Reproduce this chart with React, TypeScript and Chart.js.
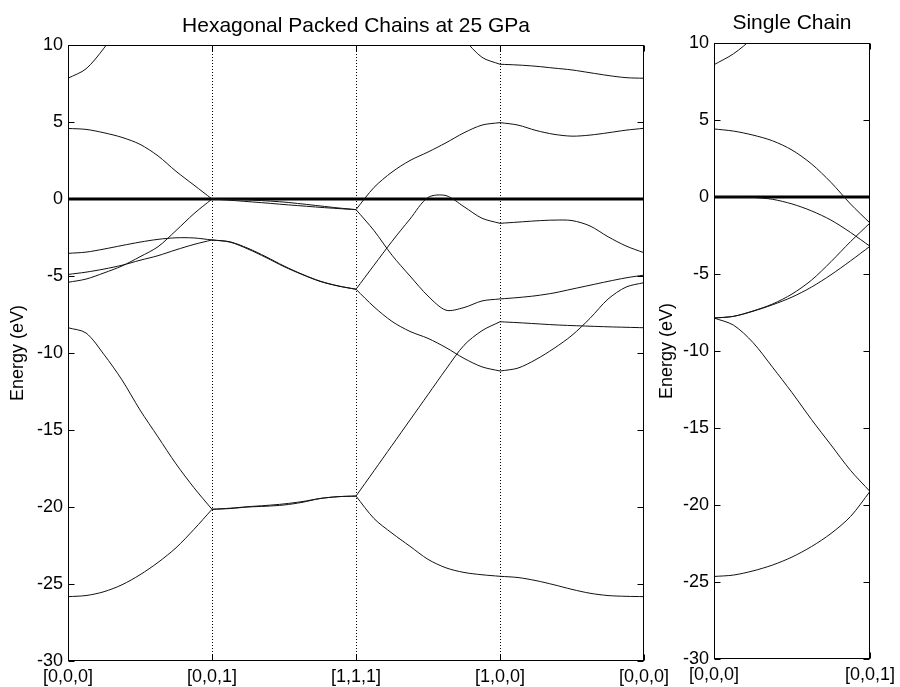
import React, { useEffect, useRef } from "react";
import { Chart, registerables } from "chart.js";

Chart.register(...registerables);

// ---- shared sampling positions along each k-path segment (fraction of segment) ----
const T = [0, 0.125, 0.25, 0.375, 0.5, 0.625, 0.75, 0.875, 1];

// ---- tick labels ----
const hexPathLabels = ["[0,0,0]", "[0,0,1]", "[1,1,1]", "[1,0,0]", "[0,0,0]"];
const chainPathLabels = ["[0,0,0]", "[0,0,1]"];
const energyTicks = [10, 5, 0, -5, -10, -15, -20, -25, -30];
const fermiLevel = 0;

const hexTitle = "Hexagonal Packed Chains at 25 GPa";
const chainTitle = "Single Chain";
const yTitle = "Energy (eV)";

// ---- Hexagonal packed chains: bands (eV) per segment, sampled at T ----
// segment [0,0,0] -> [0,0,1]
const hexSeg1: (number | null)[][] = [
  [7.84, 8.45, 9.8, 11.5, null, null, null, null, null],
  [4.58, 4.52, 4.3, 4.0, 3.55, 2.8, 1.8, 0.9, 0],
  [-3.53, -3.45, -3.25, -3.02, -2.8, -2.62, -2.52, -2.53, -2.66],
  [-4.9, -4.75, -4.55, -4.3, -3.98, -3.68, -3.3, -2.95, -2.66],
  [-5.41, -5.2, -4.8, -4.35, -3.75, -3.1, -2.05, -0.95, 0],
  [-8.36, -8.7, -10.1, -11.75, -13.7, -15.45, -17.2, -18.75, -20.15],
  [-25.82, -25.75, -25.5, -25.05, -24.4, -23.6, -22.65, -21.45, -20.15],
];
// segment [0,0,1] -> [1,1,1]
const hexSeg2: (number | null)[][] = [
  [0, -0.08, -0.17, -0.26, -0.36, -0.45, -0.54, -0.62, -0.69],
  [0, -0.02, -0.06, -0.12, -0.2, -0.32, -0.45, -0.58, -0.69],
  [-2.66, -2.8, -3.25, -3.8, -4.39, -4.9, -5.35, -5.65, -5.86],
  [-2.66, -2.78, -3.2, -3.75, -4.35, -4.88, -5.33, -5.64, -5.86],
  [-20.15, -20.1, -20.0, -19.95, -19.87, -19.7, -19.45, -19.33, -19.29],
  [-20.15, -20.08, -19.98, -19.9, -19.8, -19.65, -19.45, -19.33, -19.29],
];
// segment [1,1,1] -> [1,0,0]
const hexSeg3: (number | null)[][] = [
  [-0.69, 0.75, 1.75, 2.5, 3.05, 3.65, 4.3, 4.8, 4.96],
  [-0.69, -2.05, -3.65, -5.0, -6.3, -7.22, -7.05, -6.62, -6.49],
  [-5.86, -4.3, -2.75, -1.3, 0.1, 0.22, -0.5, -1.25, -1.58],
  [-5.86, -7.0, -7.95, -8.6, -9.05, -9.65, -10.35, -10.9, -11.17],
  [-19.29, -17.65, -16.0, -14.35, -12.7, -11.05, -9.5, -8.55, -7.97],
  [-19.29, -20.75, -21.7, -22.55, -23.4, -23.95, -24.25, -24.4, -24.5],
  [null, null, null, null, null, 12.0, 10.4, 9.2, 8.75],
];
// segment [1,0,0] -> [0,0,0]
const hexSeg4: (number | null)[][] = [
  [8.75, 8.7, 8.62, 8.5, 8.38, 8.2, 8.02, 7.88, 7.84],
  [4.96, 4.8, 4.45, 4.2, 4.08, 4.15, 4.3, 4.47, 4.59],
  [-1.58, -1.5, -1.42, -1.37, -1.4, -1.75, -2.45, -3.05, -3.49],
  [-6.49, -6.4, -6.28, -6.1, -5.85, -5.6, -5.35, -5.12, -4.94],
  [-7.97, -8.03, -8.1, -8.17, -8.22, -8.26, -8.3, -8.33, -8.36],
  [-11.17, -10.98, -10.42, -9.7, -8.85, -7.75, -6.5, -5.72, -5.43],
  [-24.5, -24.58, -24.78, -25.05, -25.35, -25.6, -25.75, -25.8, -25.82],
];

// ---- Single chain: bands (eV) on [0,0,0] -> [0,0,1], sampled at T ----
const chainSeg1: (number | null)[][] = [
  [8.59, 9.3, 10.35, 11.8, null, null, null, null, null],
  [4.42, 4.28, 4.02, 3.65, 3.05, 2.15, 0.95, -0.45, -1.69],
  [0, 0, -0.03, -0.15, -0.45, -0.9, -1.5, -2.3, -3.2],
  [-7.86, -7.75, -7.4, -6.95, -6.3, -5.4, -4.2, -2.9, -1.69],
  [-7.86, -7.75, -7.42, -7.0, -6.5, -5.85, -5.05, -4.15, -3.2],
  [-7.86, -8.32, -9.45, -11.05, -12.7, -14.45, -16.1, -17.75, -19.12],
  [-24.64, -24.55, -24.28, -23.9, -23.38, -22.7, -21.85, -20.75, -19.12],
];

const FONT = "Arial, 'Liberation Sans', Helvetica, sans-serif";
const INK = "#000";

function bandDatasets(segments: (number | null)[][][]) {
  const out: any[] = [];
  segments.forEach((seg, si) => {
    seg.forEach((band) => {
      const pts = band
        .map((e, i) => (e === null ? null : { x: si + T[i], y: e }))
        .filter((p) => p !== null);
      out.push({
        data: pts,
        borderColor: "#111",
        borderWidth: 1,
        pointRadius: 0,
        fill: false,
        tension: 0.3,
        borderJoinStyle: "round",
      });
    });
  });
  return out;
}

function fermiDataset(xMax: number) {
  return {
    data: [
      { x: 0, y: fermiLevel },
      { x: xMax, y: fermiLevel },
    ],
    borderColor: INK,
    borderWidth: 3,
    pointRadius: 0,
    fill: false,
  };
}

const framePlugin = {
  id: "frame",
  beforeDatasetsDraw(chart: any, _args: any, opts: any) {
    const { ctx, chartArea: a, scales } = chart;
    const xs = scales.x;
    ctx.save();
    ctx.strokeStyle = INK;
    ctx.lineWidth = 1;
    ctx.setLineDash([1, 2]);
    for (const v of opts.dotted || []) {
      const px = Math.round(xs.getPixelForValue(v)) + 0.5;
      ctx.beginPath();
      ctx.moveTo(px, a.top);
      ctx.lineTo(px, a.bottom);
      ctx.stroke();
    }
    ctx.restore();
  },
  afterDatasetsDraw(chart: any) {
    const { ctx, chartArea: a, scales } = chart;
    const xs = scales.x;
    const ys = scales.y;
    const L = Math.round(a.left) + 0.5;
    const R = Math.round(a.right) - 0.5;
    const Tp = Math.round(a.top) + 0.5;
    const B = Math.round(a.bottom) - 0.5;
    const len = 6;
    ctx.save();
    ctx.strokeStyle = INK;
    ctx.lineWidth = 1;
    ctx.beginPath();
    for (const t of ys.ticks) {
      const py = Math.round(ys.getPixelForValue(t.value)) + 0.5;
      ctx.moveTo(L, py);
      ctx.lineTo(L + len, py);
      ctx.moveTo(R, py);
      ctx.lineTo(R - len, py);
    }
    for (const t of xs.ticks) {
      const px = Math.round(xs.getPixelForValue(t.value)) + 0.5;
      ctx.moveTo(px, B);
      ctx.lineTo(px, B - len);
      ctx.moveTo(px, Tp);
      ctx.lineTo(px, Tp + len);
    }
    ctx.stroke();
    ctx.strokeRect(L, Tp, R - L, B - Tp);
    ctx.restore();
  },
};

function buildConfig(p: {
  title: string;
  labels: string[];
  segments: (number | null)[][][];
  padding: { left: number; right: number; top: number; bottom: number };
  yWidth: number;
  xHeight: number;
  titlePad: { top: number; bottom: number };
  yTitlePad: number;
  dotted: number[];
}): any {
  const xMax = p.labels.length - 1;
  return {
    type: "line",
    data: {
      datasets: [...bandDatasets(p.segments), fermiDataset(xMax)],
    },
    plugins: [framePlugin],
    options: {
      responsive: false,
      animation: false,
      devicePixelRatio: 1,
      events: [],
      layout: { padding: p.padding },
      plugins: {
        legend: { display: false },
        tooltip: { enabled: false },
        title: {
          display: true,
          text: p.title,
          fullSize: false,
          color: INK,
          font: { family: FONT, size: 21, weight: "normal", lineHeight: 1 },
          padding: p.titlePad,
        },
        frame: { dotted: p.dotted },
      },
      scales: {
        x: {
          type: "linear",
          min: 0,
          max: xMax,
          grid: { display: false, drawTicks: false },
          border: { display: false },
          afterBuildTicks: (s: any) => {
            s.ticks = p.labels.map((_, i) => ({ value: i }));
          },
          afterFit: (s: any) => {
            s.height = p.xHeight;
          },
          ticks: {
            autoSkip: false,
            maxRotation: 0,
            minRotation: 0,
            padding: 5,
            color: INK,
            font: { family: FONT, size: 18 },
            callback: (v: any) => p.labels[Math.round(Number(v))] ?? "",
          },
        },
        y: {
          type: "linear",
          min: energyTicks[energyTicks.length - 1],
          max: energyTicks[0],
          grid: { display: false, drawTicks: false },
          border: { display: false },
          afterBuildTicks: (s: any) => {
            s.ticks = energyTicks.map((v) => ({ value: v }));
          },
          afterFit: (s: any) => {
            s.width = p.yWidth;
          },
          ticks: {
            padding: 5,
            color: INK,
            font: { family: FONT, size: 18 },
            callback: (v: any) => String(v),
          },
          title: {
            display: true,
            text: yTitle,
            color: INK,
            font: { family: FONT, size: 18 },
            padding: { top: p.yTitlePad, bottom: 0 },
          },
        },
      },
    },
  };
}

export default function App() {
  const leftRef = useRef<HTMLCanvasElement>(null);
  const rightRef = useRef<HTMLCanvasElement>(null);

  useEffect(() => {
    const c1 = new Chart(
      leftRef.current as HTMLCanvasElement,
      buildConfig({
        title: hexTitle,
        labels: hexPathLabels,
        segments: [hexSeg1, hexSeg2, hexSeg3, hexSeg4],
        padding: { left: 0, right: 256, top: 0, bottom: 0 },
        yWidth: 68,
        xHeight: 26,
        titlePad: { top: 16, bottom: 8 },
        yTitlePad: 7,
        dotted: [1, 2, 3],
      })
    );
    const c2 = new Chart(
      rightRef.current as HTMLCanvasElement,
      buildConfig({
        title: chainTitle,
        labels: chainPathLabels,
        segments: [chainSeg1],
        padding: { left: 648, right: 27, top: 0, bottom: 0 },
        yWidth: 66,
        xHeight: 28,
        titlePad: { top: 13, bottom: 9 },
        yTitlePad: 8,
        dotted: [],
      })
    );
    return () => {
      c1.destroy();
      c2.destroy();
    };
  }, []);

  return (
    <div
      style={{
        position: "absolute",
        left: 0,
        top: 0,
        width: 900,
        height: 687,
        background: "#fff",
      }}
    >
      <canvas
        ref={leftRef}
        width={900}
        height={687}
        style={{ position: "absolute", left: 0, top: 0 }}
      />
      <canvas
        ref={rightRef}
        width={900}
        height={687}
        style={{ position: "absolute", left: 0, top: 0 }}
      />
    </div>
  );
}
